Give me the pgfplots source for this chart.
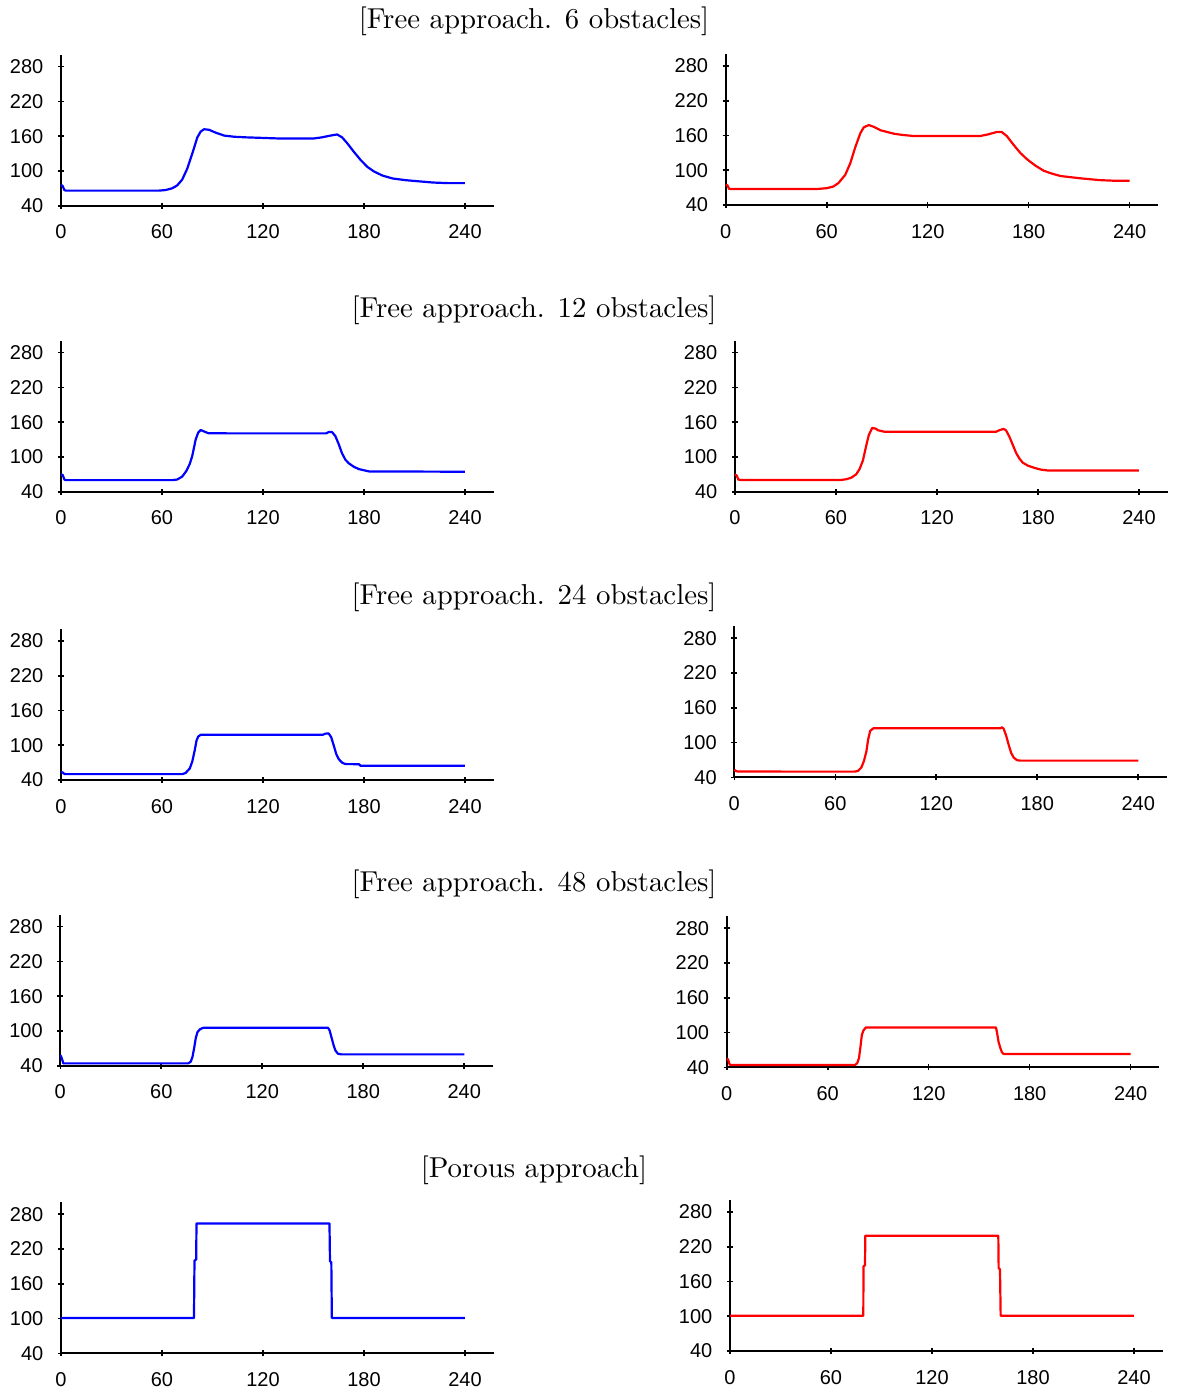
\documentclass[border=0pt]{standalone}
\usepackage{fontspec}
\setsansfont{Liberation Sans}
\newfontfamily\ttlfont{lmroman10-regular}[Extension=.otf]
\usepackage{pgfplots}
\pgfplotsset{compat=1.18}
\definecolor{pblue}{RGB}{0,0,255}
\definecolor{pred}{RGB}{255,0,0}
\pgfplotsset{panel/.style={
  scale only axis, width=216.3pt, height=75.6pt,
  xmin=0, xmax=257, ymin=40, ymax=301,
  axis lines=left, axis line style={-, line width=1pt, black},
  xtick={0,60,120,180,240}, ytick={40,100,160,220,280},
  tick align=center, major tick length=3pt,
  every tick/.style={line width=0.8pt, black},
  /pgf/number format/assume math mode=true,
  ticklabel style={font=\fontsize{10}{12}\selectfont\sffamily},
  yticklabel style={xshift=-3.8pt},
  xticklabel style={yshift=-4.5pt},
  anchor=south west, clip=false,
  every axis plot/.append style={line width=1.1pt, line join=round},
}}
\begin{document}
\begin{tikzpicture}
\useasboundingbox (0,0) rectangle (590pt,-694.5pt);
\tikzset{ttl/.style={anchor=base, font=\ttlfont\fontsize{14.4}{17}\selectfont, inner sep=0pt}}
\node[ttl] at (267pt,-14.2pt) {[Free approach. 6 obstacles]};
\node[ttl] at (267pt,-158.6pt) {[Free approach. 12 obstacles]};
\node[ttl] at (267pt,-302.1pt) {[Free approach. 24 obstacles]};
\node[ttl] at (267pt,-445.6pt) {[Free approach. 48 obstacles]};
\node[ttl] at (267pt,-588.6pt) {[Porous approach]};

% Row 1
\begin{axis}[panel, at={(30.5pt,-102.85pt)}]
\addplot[pblue] coordinates {(0,76) (1,74) (2,67) (3,66) (20,66) (40,66) (58,66) (62,67) (66,70) (69,75) (72,85) (75,104) (78,130) (81,158) (83,168) (85,172) (88,171) (92,166) (97,161) (103,159) (110,158) (120,157) (130,156) (140,156) (150,156) (155,158) (160,161) (164,163) (167,158) (170,148) (174,133) (178,119) (182,107) (186,99) (191,92) (197,87) (205,84) (213,82) (221,80) (230,79) (240,79)};
\end{axis}
\begin{axis}[panel, at={(362.85pt,-102.5pt)}]
\addplot[pred] coordinates {(0,75) (1,74) (2,68) (3,67.6) (30,67.6) (54,67.6) (60,69) (64,72) (67,78) (71,92) (74,112) (77,140) (80,164) (82,174) (85,178) (88,175) (92,169) (96,166) (100,163) (105,161) (112,159) (130,159) (151,159) (156,162) (161,166) (164,166) (167,159) (171,144) (175,130) (179,119) (184,108) (189,99) (194,94) (199,90) (205,88) (211,86) (222,83) (230,82) (240,82)};
\end{axis}

% Row 2
\begin{axis}[panel, at={(30.5pt,-245.85pt)}]
\addplot[pblue] coordinates {(0,70) (1,69) (2,61) (3,60) (30,60) (66,60) (69,61) (72,66) (74.5,76) (76.5,88) (78,102) (80,130) (81.5,142) (83,146.5) (85,144) (87.5,141) (100,140.7) (157.5,140.7) (159,143) (161,143) (163,136) (165,122) (167,106) (169,95) (171,89) (174,83) (177,79) (180,77) (183,75) (240,74.5)};
\end{axis}
\begin{axis}[panel, at={(367.5pt,-245.85pt)}]
\addplot[pred] coordinates {(0,70) (1,68) (2,61) (3,60.3) (30,60.3) (63,60.3) (66,61.5) (69,64) (72,70) (74,79) (76,94) (78,120) (79.5,138) (81.5,150) (83.5,149) (85,146) (89,143.4) (120,143.4) (155,143.4) (157,146) (159.5,148.5) (161,146) (163,135) (165,121) (167,107) (169,97) (171,90) (174,85) (178,81) (182,78) (186,76.6) (240,76.6)};
\end{axis}

% Row 3
\begin{axis}[panel, at={(30.5pt,-390pt)}]
\addplot[pblue] coordinates {(0,54) (1,53) (2,50.5) (3,50.2) (40,50.2) (72,50.2) (74,52) (76.5,60) (78,72) (79.5,92) (80.5,108) (81.5,115) (83,118) (120,118) (155.5,118) (157,120) (159,120.5) (160.5,114) (162,100) (163.5,85) (165,76) (167,70) (169,67.5) (177,67.3) (178,64.5) (240,64.5)};
\end{axis}
\begin{axis}[panel, at={(367.15pt,-388.65pt)}]
\addplot[pred] coordinates {(0,53) (1,51) (2,50) (40,49.8) (71.5,49.8) (73.5,51) (75.5,57) (77,68) (78.5,85) (79.5,105) (80.7,120) (82.6,124.6) (120,124.6) (158,124.6) (159,126.3) (160,124) (161.5,112) (163,96) (164.5,82) (166,74) (168,69.5) (170,68.8) (240,68.8)};
\end{axis}

% Row 4
\begin{axis}[panel, at={(30.15pt,-532.85pt)}]
\addplot[pblue] coordinates {(0,58) (0.5,56) (1.2,50) (1.8,44) (40,44) (76,44) (77.5,47) (78.5,55) (79.5,70) (80.5,88) (81.5,98) (83,103) (85,105.6) (120,105.6) (159,105.6) (160,101) (161,90) (162.5,74) (163.5,66) (165,60.5) (167,59.6) (240,59.6)};
\end{axis}
\begin{axis}[panel, at={(363.35pt,-533.65pt)}]
\addplot[pred] coordinates {(0,54.5) (0.8,54) (1.5,47) (2,44) (40,44) (76.2,44) (77.5,47) (78.6,56) (79.5,76) (80.3,96) (81.3,104) (82.7,108.8) (120,108.8) (160,108.8) (160.7,98) (161.5,84) (162.5,74) (163.5,66) (164.5,63.1) (240,63.1)};
\end{axis}

% Row 5
\begin{axis}[panel, at={(30.5pt,-676.65pt)}]
\addplot[pblue] coordinates {(0,101) (79,101) (79.3,200) (80.3,202) (80.5,264) (120,264) (159.5,264) (159.8,199) (160.6,197) (160.9,101) (240,101)};
\end{axis}
\begin{axis}[panel, at={(365pt,-675.5pt)}]
\addplot[pred] coordinates {(0,101) (79.2,101) (79.3,186) (80.2,188) (80.4,239) (159.4,239) (159.6,183) (160.4,181) (160.8,101) (240,101)};
\end{axis}
\end{tikzpicture}
\end{document}
